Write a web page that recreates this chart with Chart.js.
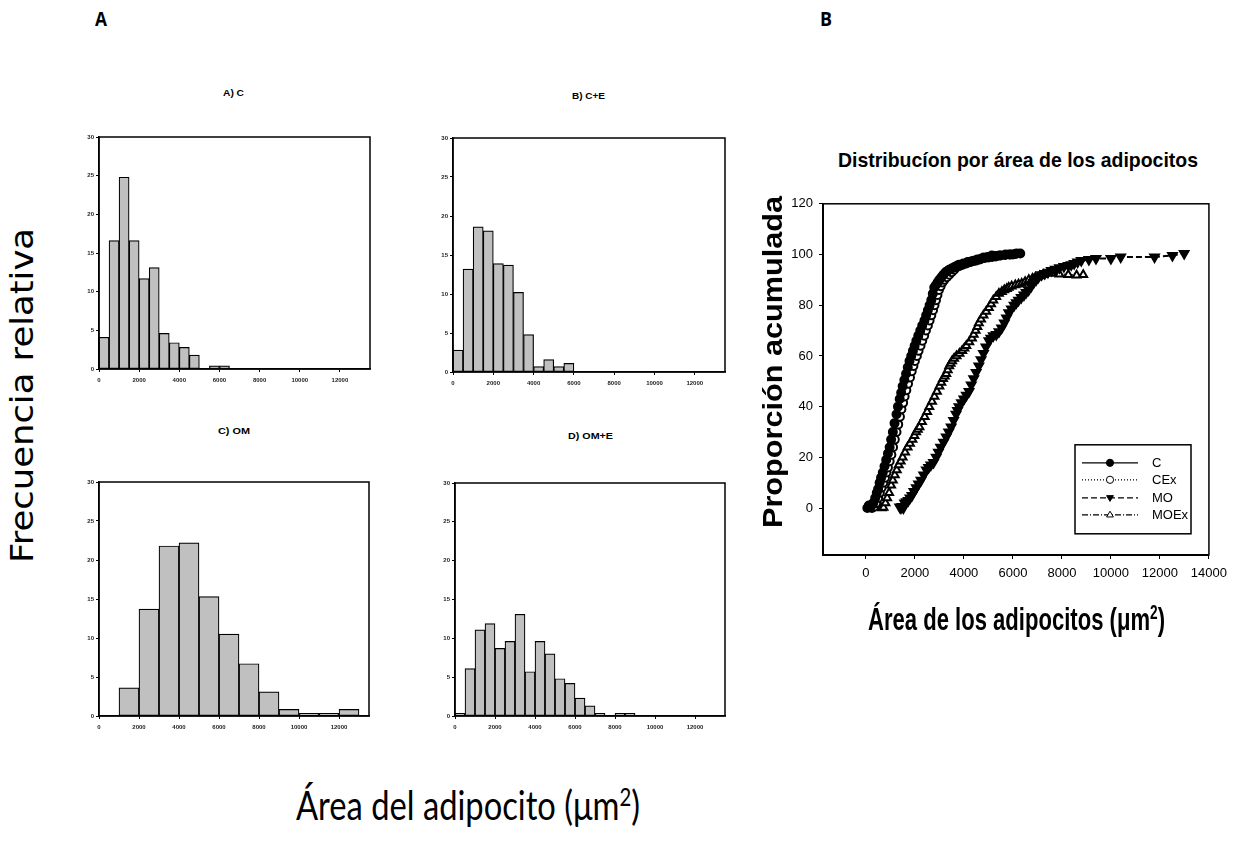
<!DOCTYPE html>
<html>
<head>
<meta charset="utf-8">
<script src="https://cdn.jsdelivr.net/npm/chart.js@4.4.1/dist/chart.umd.min.js"></script>
<style>
  body { margin: 0; background: #fff; width: 1234px; height: 848px; position: relative; overflow: hidden; }
  canvas { position: absolute; }
  .lbl { position: absolute; white-space: nowrap; transform-origin: 0 0; color: #000; line-height: 1; }
  .sup { font-size: 0.62em; position: relative; top: -0.55em; }
</style>
</head>
<body>
<canvas id="histA"></canvas>
<canvas id="histB"></canvas>
<canvas id="histC"></canvas>
<canvas id="histD"></canvas>
<canvas id="cumul"></canvas>
<script>
// ---- histogramas (frecuencia relativa, %) ----
const histTicksX = [0, 2000, 4000, 6000, 8000, 10000, 12000];
const histTicksY = [0, 5, 10, 15, 20, 25, 30];

const binStartC = 0, binWidthC = 500;
const freqC = [4.1, 16.6, 24.8, 16.6, 11.7, 13.1, 4.6, 3.4, 2.8, 1.8, 0, 0.4, 0.4];

const binStartCE = 0, binWidthCE = 500;
const freqCE = [2.8, 13.2, 18.6, 18.1, 13.9, 13.7, 10.2, 4.8, 0.7, 1.6, 0.7, 1.1];

const binStartOM = 1000, binWidthOM = 1000;
const freqOM = [3.6, 13.7, 21.8, 22.2, 15.3, 10.5, 6.7, 3.1, 0.85, 0.35, 0.35, 0.85];

const binStartOME = 0, binWidthOME = 500;
const freqOME = [0.35, 6.1, 11.1, 11.9, 8.7, 9.6, 13.1, 5.7, 9.6, 8.0, 4.8, 4.2, 2.3, 1.3, 0.35, 0, 0.35, 0.35];

// ---- distribucion acumulada [area, proporcion] ----
const cumTicksX = [0, 2000, 4000, 6000, 8000, 10000, 12000, 14000];
const cumTicksY = [0, 20, 40, 60, 80, 100, 120];

const serieC = [[60,0],[120,1],[200,0.5],[300,2],[380,4],[445,6],[500,7.5],[560,10],[620,12],[690,14],[760,16.5],[830,19],[900,21.5],[970,24],[1030,27],[1100,30],[1170,33.5],[1250,37],[1310,40],[1380,43],[1440,45.5],[1500,48],[1570,50.5],[1640,53],[1710,55.5],[1780,58],[1850,60],[1920,62],[1990,64],[2060,66],[2140,68],[2220,70],[2300,72],[2390,74],[2460,76],[2530,78],[2600,80],[2670,82],[2730,84.5],[2790,87],[2860,88],[2930,89],[3000,90],[3080,91],[3160,92],[3250,93],[3330,93.5],[3400,94],[3500,94.5],[3600,95],[3700,95.5],[3800,96],[3980,96.5],[4150,97],[4320,97.3],[4490,97.6],[4650,98],[4800,98.8],[4970,99],[5140,99.6],[5300,99.4],[5450,99.6],[5700,100],[5900,100],[6100,100.2],[6300,100.4]];

const serieCEx = [[250,0],[330,0.5],[420,2],[500,4],[570,6],[640,8],[710,10],[780,12],[840,14],[900,16],[970,18.5],[1040,21],[1110,24],[1180,27],[1250,30],[1320,33],[1390,36],[1450,39],[1520,41.5],[1580,44],[1650,46.5],[1720,49],[1800,51.5],[1870,54],[1940,56],[2000,58],[2080,60],[2150,62],[2230,64],[2300,66],[2380,68],[2450,70],[2530,72],[2600,74],[2670,76],[2740,78],[2800,80],[2860,82],[2920,84],[2980,86],[3050,87.5],[3120,89],[3200,90],[3300,91],[3400,92],[3500,93],[3600,94],[3700,95],[3820,95.5],[3950,96],[4100,96.5],[4250,97],[4400,97.5],[4550,98],[4700,98.3],[4850,98.6],[5000,98.8],[5150,99],[5300,99.2],[5500,99.6],[5680,99.8],[5850,100],[6000,100],[6150,100.4]];

const serieMO = [[1380,0.4],[1430,0],[1480,0.6],[1530,0],[1580,2],[1650,2.5],[1730,3],[1800,4],[1880,5],[1960,6.5],[2060,8],[2150,9.5],[2250,11],[2360,13],[2470,15],[2560,16],[2650,17],[2760,18],[2870,20],[2960,22],[3050,24],[3170,26],[3280,28],[3380,30],[3480,32],[3580,34.5],[3680,37],[3740,38.5],[3800,40],[3900,41.5],[4000,43],[4100,44.5],[4210,46],[4300,48.5],[4400,51],[4500,53.5],[4610,56],[4700,58.5],[4800,61],[4900,63.5],[5020,66],[5100,67],[5200,68],[5320,68.5],[5430,69.5],[5540,71],[5650,73],[5740,75],[5830,77],[5940,78.5],[6050,80],[6140,81],[6230,82],[6340,83],[6450,84],[6540,85],[6640,86],[6750,87.5],[6850,89],[6950,90],[7040,91],[7170,92],[7300,92.5],[7430,93],[7570,93.7],[7730,94.2],[7900,94.8],[8080,95.3],[8260,95.7],[8380,96],[8500,96.5],[8640,97],[8790,97.6],[9100,98],[9390,98.4],[10000,98.4],[10400,99],[11780,99],[12510,99.6],[12990,100.4]];

const serieMOEx = [[650,0],[720,0.2],[800,2],[870,4],[950,6],[1030,9],[1100,11],[1180,13],[1260,15],[1340,17],[1420,18.5],[1500,20],[1600,22],[1700,24],[1800,25.5],[1900,27],[1980,28.5],[2050,30],[2120,31],[2190,32],[2290,34],[2400,36],[2500,38],[2590,40],[2700,42],[2800,44],[2900,46],[3000,48],[3080,49.5],[3150,51],[3220,52],[3280,53],[3340,54.5],[3400,56],[3460,57],[3520,58],[3600,59],[3700,60],[3820,61],[3930,62],[4020,63],[4100,64],[4220,65.5],[4330,67],[4400,68.5],[4480,70],[4550,71.5],[4610,73],[4700,74.5],[4800,76],[4910,77.5],[5020,79],[5110,80.5],[5200,82],[5320,83.3],[5430,84.6],[5550,85.3],[5650,86],[5750,86.5],[5830,87],[5950,87.5],[6100,88],[6230,88.3],[6360,88.6],[6500,89.3],[6650,90],[6800,90.5],[6920,91],[7100,91.5],[7250,92],[7570,92.5],[7900,92.2],[8260,92],[8600,91.8],[8870,92]];

const seriesNames = ['C', 'CEx', 'MO', 'MOEx'];

// marco completo alrededor del area del grafico
const framePlugin = {
  id: 'frame',
  afterDraw(chart, args, opts) {
    const a = chart.chartArea, ctx = chart.ctx;
    ctx.save();
    ctx.strokeStyle = '#000';
    ctx.lineWidth = opts.width || 1.5;
    ctx.strokeRect(a.left, a.top, a.right - a.left, a.bottom - a.top);
    ctx.restore();
  }
};

function setupCanvas(id, left, top, w, h) {
  const c = document.getElementById(id);
  c.width = w; c.height = h;
  c.style.left = left + 'px'; c.style.top = top + 'px';
  c.style.width = w + 'px'; c.style.height = h + 'px';
  return c;
}

const plainNum = v => String(v);

// box = area de trazado en pixeles de la pagina
function makeHist(id, box, start, width, freq) {
  const padL = 30, padT = 12, padR = 8, padB = 25;
  const c = setupCanvas(id, box.l - padL, box.t - padT, box.r - box.l + padL + padR, box.b - box.t + padT + padB);
  const data = freq.map((v, i) => ({ x: start + width * i + width / 2, y: v }));
  const tickFont = { family: 'Arial, "Liberation Sans", sans-serif', size: 6, weight: 'bold' };
  return new Chart(c, {
    type: 'bar',
    data: {
      datasets: [{
        data: data,
        backgroundColor: '#c0c0c0',
        borderColor: '#000',
        borderWidth: 1.2,
        borderSkipped: false,
        barPercentage: 1,
        categoryPercentage: 1
      }]
    },
    options: {
      responsive: false,
      animation: false,
      devicePixelRatio: 1,
      events: [],
      layout: { padding: { top: padT, right: padR, left: 0, bottom: 0 } },
      plugins: { legend: { display: false }, tooltip: { enabled: false }, frame: { width: 1.5 } },
      scales: {
        x: {
          type: 'linear', min: 0, max: 13500, offset: false,
          afterBuildTicks: s => { s.ticks = histTicksX.map(v => ({ value: v })); },
          afterFit: s => { s.height = padB; },
          grid: { drawOnChartArea: false, offset: false, tickLength: 3, color: '#000' },
          border: { color: '#000', width: 1.5 },
          ticks: { font: tickFont, color: '#222', padding: 5, maxRotation: 0, autoSkip: false, callback: plainNum }
        },
        y: {
          min: 0, max: 30,
          afterBuildTicks: s => { s.ticks = histTicksY.map(v => ({ value: v })); },
          afterFit: s => { s.width = padL; },
          grid: { drawOnChartArea: false, tickLength: 3, color: '#000' },
          border: { color: '#000', width: 1.5 },
          ticks: { font: tickFont, color: '#222', padding: 2 }
        }
      }
    },
    plugins: [framePlugin]
  });
}

makeHist('histA', { l: 99, t: 137, r: 370, b: 369 }, binStartC, binWidthC, freqC);
makeHist('histB', { l: 453, t: 138, r: 725, b: 372 }, binStartCE, binWidthCE, freqCE);
makeHist('histC', { l: 99, t: 482, r: 369, b: 716 }, binStartOM, binWidthOM, freqOM);
makeHist('histD', { l: 455, t: 483, r: 725, b: 716 }, binStartOME, binWidthOME, freqOME);

// ---- grafico de proporcion acumulada ----
function drawMarker(ctx, style, x, y, r, filled) {
  ctx.beginPath();
  if (style === 'circle') {
    ctx.arc(x, y, r, 0, Math.PI * 2);
  } else {
    const dir = style === 'down' ? -1 : 1;
    ctx.moveTo(x, y - dir * r);
    ctx.lineTo(x + r * 0.95, y + dir * r * 0.6);
    ctx.lineTo(x - r * 0.95, y + dir * r * 0.6);
    ctx.closePath();
  }
  ctx.fillStyle = filled ? '#000' : '#fff';
  ctx.fill();
  ctx.lineWidth = 1;
  ctx.strokeStyle = '#000';
  ctx.stroke();
}

const legendPlugin = {
  id: 'boxLegend',
  afterDraw(chart, args, opts) {
    const a = chart.chartArea, ctx = chart.ctx;
    const bx = a.left + opts.dx, by = a.top + opts.dy;
    ctx.save();
    ctx.fillStyle = '#fff';
    ctx.fillRect(bx, by, opts.w, opts.h);
    ctx.strokeStyle = '#000';
    ctx.lineWidth = 1.5;
    ctx.strokeRect(bx, by, opts.w, opts.h);
    ctx.font = '13px "Liberation Sans Narrow", "Arial Narrow", Arial, sans-serif';
    ctx.textBaseline = 'middle';
    chart.data.datasets.forEach((ds, i) => {
      const y = by + opts.rows[i];
      ctx.save();
      ctx.setLineDash(ds.borderDash || []);
      ctx.lineWidth = 1.3;
      ctx.beginPath();
      ctx.moveTo(bx + 7, y);
      ctx.lineTo(bx + 63, y);
      ctx.stroke();
      ctx.restore();
      drawMarker(ctx, ds.legendMarker, bx + 35, y, 3.6, ds.pointBackgroundColor === '#000');
      ctx.fillStyle = '#000';
      ctx.fillText(ds.label, bx + 77, y + 1);
    });
    ctx.restore();
  }
};

const cumCanvas = setupCanvas('cumul', 760, 190, 474, 420);
const narrowFont = { family: '"Liberation Sans Narrow", "Arial Narrow", Arial, sans-serif', size: 13 };

const toXY = arr => arr.map(p => ({ x: p[0], y: p[1] }));

new Chart(cumCanvas, {
  type: 'scatter',
  data: {
    datasets: [
      { label: seriesNames[0], data: toXY(serieC), showLine: true, borderColor: '#000', borderWidth: 2,
        pointStyle: 'circle', pointRadius: 4, pointBackgroundColor: '#000', pointBorderColor: '#000', legendMarker: 'circle' },
      { label: seriesNames[1], data: toXY(serieCEx), showLine: true, borderColor: '#000', borderWidth: 2, borderDash: [1, 2],
        pointStyle: 'circle', pointRadius: 4, pointBackgroundColor: '#fff', pointBorderColor: '#000', pointBorderWidth: 2, legendMarker: 'circle' },
      { label: seriesNames[2], data: toXY(serieMO), showLine: true, borderColor: '#000', borderWidth: 2, borderDash: [6, 3],
        pointStyle: 'triangle', rotation: 180, pointRadius: 5, pointBackgroundColor: '#000', pointBorderColor: '#000', legendMarker: 'down' },
      { label: seriesNames[3], data: toXY(serieMOEx), showLine: true, borderColor: '#000', borderWidth: 2, borderDash: [6, 2, 1, 2],
        pointStyle: 'triangle', pointRadius: 4.5, pointBackgroundColor: '#fff', pointBorderColor: '#000', pointBorderWidth: 2, legendMarker: 'up' }
    ]
  },
  options: {
    responsive: false,
    animation: false,
    devicePixelRatio: 1,
    events: [],
    layout: { padding: { top: 12, right: 22, left: 0, bottom: 0 } },
    plugins: {
      legend: { display: false },
      tooltip: { enabled: false },
      frame: { width: 1.5 },
      boxLegend: { dx: 252, dy: 241, w: 116, h: 89, rows: [18, 35, 53, 70] }
    },
    scales: {
      x: {
        type: 'linear', min: -1750, max: 14000,
        afterBuildTicks: s => { s.ticks = cumTicksX.map(v => ({ value: v })); },
        afterFit: s => { s.height = 55; },
        grid: { drawOnChartArea: false, tickLength: 4, color: '#000' },
        border: { color: '#000', width: 2 },
        ticks: { font: narrowFont, color: '#000', padding: 7, maxRotation: 0, autoSkip: false, callback: plainNum }
      },
      y: {
        min: -18.5, max: 120,
        afterBuildTicks: s => { s.ticks = cumTicksY.map(v => ({ value: v })); },
        afterFit: s => { s.width = 63; },
        grid: { drawOnChartArea: false, tickLength: 4, color: '#000' },
        border: { color: '#000', width: 2 },
        ticks: { font: narrowFont, color: '#000', padding: 6, callback: plainNum }
      }
    }
  },
  plugins: [framePlugin, legendPlugin]
});

// ---- textos ----
function placeText(html, x, y, w, font, rotated) {
  const el = document.createElement('div');
  el.className = 'lbl';
  el.style.font = font;
  el.style.lineHeight = '1';
  el.innerHTML = html;
  document.body.appendChild(el);
  const s = w / el.getBoundingClientRect().width;
  el.style.left = x + 'px';
  el.style.top = y + 'px';
  el.style.transform = rotated ? 'rotate(-90deg) scaleX(' + s + ')' : 'scaleX(' + s + ')';
}

placeText('A', 95, 10, 12, 'bold 19px "Open Sans", sans-serif');
placeText('B', 820, 10, 12, 'bold 19px "Open Sans", sans-serif');

placeText('A) C', 223, 89, 21, 'bold 9px Arial, "Liberation Sans", sans-serif');
placeText('B) C+E', 572, 92, 33, 'bold 9px Arial, "Liberation Sans", sans-serif');
placeText('C) OM', 218, 427, 32, 'bold 9px Arial, "Liberation Sans", sans-serif');
placeText('D) OM+E', 568, 432, 45, 'bold 9px Arial, "Liberation Sans", sans-serif');

placeText('Frecuencia relativa', 6, 563, 335, '32px "DejaVu Sans", sans-serif', true);
placeText('Área del adipocito (μm<span class="sup">2</span>)', 296, 784, 344, '41px Lato, "Open Sans", sans-serif');

placeText('Distribucíon por área de los adipocitos', 838, 149, 360, 'bold 21px Arial, "Liberation Sans", sans-serif');
placeText('Proporción acumulada', 759, 528, 332, 'bold 28px Arial, "Liberation Sans", sans-serif', true);
placeText('Área de los adipocitos (μm<span class="sup">2</span>)', 868, 603, 297, 'bold 32px Arial, "Liberation Sans", sans-serif');
</script>
</body>
</html>
